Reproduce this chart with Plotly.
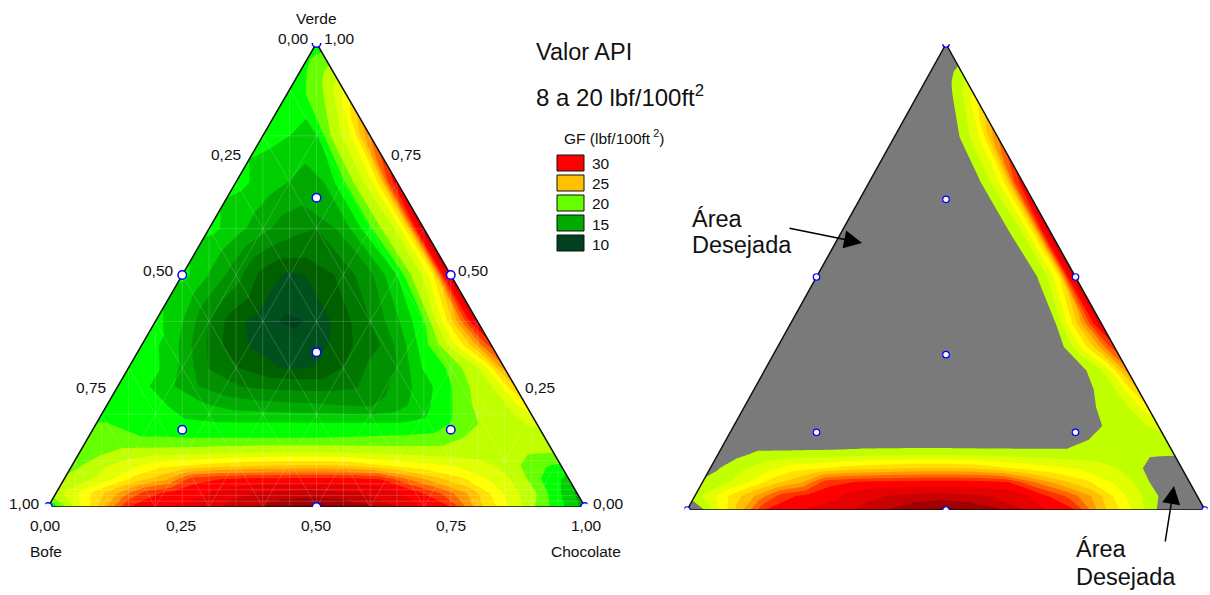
import plotly.graph_objects as go

# grid: v = Verde fraction, d = distance from the Bofe-free (right) edge along a row
grid_d = [0, .015, .03, .05, .075, .1, .15, .2, .25, .3, .35, .4, .45, .5, .55, .6, .65, .7, .75, .8, .85, .9, .95, 1]
grid_v = [0, .03, .06, .09, .12, .15, .18, .22, .26, .3, .35, .4, .5, .6, .7, .8, .9, 1]

gf_v000 = [15.5, 16.5, 17.2, 18, 19.2, 20.3, 23, 25.5, 30, 31, 32.5, 34, 35, 35.5, 35, 34, 33, 32, 31.5, 31, 30, 25.5, 21.5, 17]
gf_v003 = [16, 16.8, 17.5, 18.5, 20, 21, 23, 26, 28.5, 30.5, 32, 32.5, 32.8, 33, 32.8, 32.5, 32, 31, 30.5, 29.5, 26.5, 24, 21.5, 20]
gf_v006 = [17, 17.5, 18, 18.7, 19.9, 21, 22.5, 24, 25.5, 27.5, 30, 30.4, 30.5, 30.5, 30.4, 30.3, 30, 29.5, 26, 24.5, 22.5, 20.8, 20, 20]
gf_v009 = [18.6, 18.7, 18.9, 19.3, 20, 20.8, 21.8, 22.4, 22.8, 23.3, 24, 24.8, 25, 25, 24.8, 24.5, 24.2, 23.5, 23.2, 22, 21, 19.8, 19.5, 19.5]
gf_v012 = [20.2, 20.2, 20.2, 20.2, 20.3, 20.4, 20.5, 20.5, 20.6, 20.7, 20.8, 20.9, 21, 21, 20.9, 20.8, 20.6, 20.5, 20.4, 20.3, 19.5, 19, 19, 19]
gf_v015 = [20.5, 20.4, 20.4, 20.5, 20.5, 20.4, 20, 19.2, 19, 18.9, 18.8, 18.75, 18.7, 18.7, 18.7, 18.7, 18.7, 18.8, 18.8, 19, 18.8, 18.8, 18.8, 18.8]
gf_v018 = [21.7, 21.4, 21, 20.7, 20.5, 20.2, 19, 17.8, 17.6, 17.6, 17.6, 17.6, 17.6, 17.6, 17.6, 17.6, 17.6, 17.8, 18, 18.8, 18.8, 18.8, 18.8, 18.8]
gf_v022 = [23.5, 22.5, 21.5, 20.8, 20.4, 20, 18.3, 16.8, 15.4, 14.8, 15, 15.2, 15.3, 15.5, 15.7, 16.4, 17.2, 18, 18, 18, 18, 18, 18, 18]
gf_v026 = [25, 23.7, 22, 20.9, 20.4, 19.4, 17.6, 16, 14.6, 13.6, 13.3, 13.3, 13.4, 13.6, 14.2, 15.2, 16.7, 18, 18, 18, 18, 18, 18, 18]
gf_v030 = [27, 25, 22.8, 21.2, 20.2, 19, 17.7, 15, 14, 12.5, 11.3, 11.1, 11.5, 12.6, 13.7, 16, 17.8, 18, 18, 18, 18, 18, 18, 18]
gf_v035 = [29.5, 28, 26, 24, 21.7, 19.8, 16.7, 13.9, 12.7, 11.3, 10.8, 10.8, 11.2, 12.5, 14.6, 17.2, 18, 18, 18, 18, 18, 18, 18, 18]
gf_v040 = [32, 30, 27.5, 24.5, 21.5, 18.6, 16, 13.75, 12, 10.3, 9.6, 10.6, 11.6, 13.7, 16.3, 18, 18, 18, 18, 18, 18, 18, 18, 18]
gf_v050 = [33, 30, 24, 21.5, 19.9, 17.5, 14.7, 13, 11.5, 10.9, 12, 14.3, 16.2, 18, 18, 18, 18, 18, 18, 18, 18, 18, 18, 18]
gf_v060 = [33, 30, 24.5, 21.5, 20.3, 18.5, 15.5, 13.75, 14.2, 15.4, 16.8, 18, 18, 18, 18, 18, 18, 18, 18, 18, 18, 18, 18, 18]
gf_v070 = [31, 29, 24.5, 22, 20.5, 18.5, 15.4, 16.2, 17, 18, 18, 18, 18, 18, 18, 18, 18, 18, 18, 18, 18, 18, 18, 18]
gf_v080 = [27.5, 25.5, 23, 21.5, 19.9, 17.2, 17.5, 18, 18, 18, 18, 18, 18, 18, 18, 18, 18, 18, 18, 18, 18, 18, 18, 18]
gf_v090 = [22.5, 21.5, 20.5, 19.3, 18.6, 18, 18, 18, 18, 18, 18, 18, 18, 18, 18, 18, 18, 18, 18, 18, 18, 18, 18, 18]
gf_v100 = [17.8, 17.8, 17.8, 17.8, 17.8, 17.8, 17.8, 17.8, 17.8, 17.8, 17.8, 17.8, 17.8, 17.8, 17.8, 17.8, 17.8, 17.8, 17.8, 17.8, 17.8, 17.8, 17.8, 17.8]
gf_rows = [gf_v000, gf_v003, gf_v006, gf_v009, gf_v012, gf_v015, gf_v018, gf_v022, gf_v026,
           gf_v030, gf_v035, gf_v040, gf_v050, gf_v060, gf_v070, gf_v080, gf_v090, gf_v100]

band_start, band_end, band_size = 10, 35, 1.25
band_colors = ["#004020", "#00501e", "#006000", "#007800", "#009000", "#00aa00", "#00d000", "#00ff00",
               "#66ff00", "#bfff00", "#e0ff00", "#ffff00", "#ffe000", "#ffc000", "#ff9900", "#ff6600",
               "#ff3300", "#ff0000", "#e60000", "#c80000", "#a00000", "#800000"]
GRAY = "#7a7a7a"
right_colors = [GRAY if i < 9 else c for i, c in enumerate(band_colors)]

design_x = [0, 1, .5, .5, .25, .75, .5, .25, .75, .5]
design_v = [0, 0, 1, 0, .5, .5, 2 / 3, 1 / 6, 1 / 6, 1 / 3]

legend_labels = ["30", "25", "20", "15", "10"]
legend_colors = ["#ff0000", "#ffc000", "#66ff00", "#00aa00", "#004020"]

W, H = 1210, 595
PAD = .005


def px(x, y):
    return x / W, 1 - y / H


def scale(colors):
    n = len(colors) - 1
    return [[i / n, c] for i, c in enumerate(colors)]


carpet_x = [[max(0, 1 - v / 2 - d) for d in grid_d] for v in grid_v]
carpet_y = [[v for d in grid_d] for v in grid_v]
hidden_axis = dict(showgrid=False, showticklabels="none", showline=False, startline=False, endline=False,
                   minorgridcount=0, smoothing=0, type="linear", title=dict(text=""))

fig = go.Figure()


def panel(xa, ya, cid, colors, msize, mwidth, mesh):
    fig.add_trace(go.Carpet(a=grid_d, b=grid_v, x=carpet_x, y=carpet_y, carpet=cid, xaxis=xa, yaxis=ya,
                            aaxis=hidden_axis, baxis=hidden_axis))
    fig.add_trace(go.Contourcarpet(a=grid_d, b=grid_v, z=gf_rows, carpet=cid, xaxis=xa, yaxis=ya, showscale=False,
                                   colorscale=scale(colors), autocontour=False,
                                   contours=dict(start=band_start, end=band_end, size=band_size,
                                                 coloring="fill", showlines=False),
                                   line=dict(width=0, smoothing=0)))
    if mesh:
        mx, my = [], []
        for k in range(1, 20):
            t = k * .05
            mx += [t, t, None]
            my += [0, 2 * min(t, 1 - t), None]
        for v in [.0125, .025, .0375, .05, .075, .1, .2, .4, .6, .8]:
            mx += [v / 2, 1 - v / 2, None]
            my += [v, v, None]
        for k in range(1, 10):
            t = k * .1
            mx += [t, t / 2, None, t, (1 + t) / 2, None]
            my += [0, t, None, 0, 1 - t, None]
        fig.add_trace(go.Scatter(x=mx, y=my, xaxis=xa, yaxis=ya, mode="lines", hoverinfo="skip",
                                 line=dict(color="rgba(255,255,255,0.17)", width=1)))
    for mask_x, mask_y in [([0, .5, -1, -1, 0], [0, 1, 1, 0, 0]), ([1, .5, 2, 2, 1], [0, 1, 1, 0, 0])]:
        fig.add_trace(go.Scatter(x=mask_x, y=mask_y, xaxis=xa, yaxis=ya, mode="lines", fill="toself",
                                 fillcolor="white", line=dict(width=0, color="white"), hoverinfo="skip"))
    fig.add_trace(go.Scatter(x=[0, .5, 1, 0], y=[0, 1, 0, 0], xaxis=xa, yaxis=ya, mode="lines",
                             cliponaxis=False, hoverinfo="skip", line=dict(color="#111111", width=1.5)))
    fig.add_trace(go.Scatter(x=design_x, y=design_v, xaxis=xa, yaxis=ya, mode="markers", hoverinfo="skip",
                             marker=dict(size=msize, color="white", line=dict(color="#0000ff", width=mwidth))))


panel("x", "y", "gf_left", band_colors, 8.5, 1.5, True)
panel("x2", "y2", "gf_right", right_colors, 6.5, 1.2, False)


def axis_pair(left, right, bottom, top):
    d = right - left
    return (dict(domain=[(left - PAD * d) / W, (right + PAD * d) / W], range=[-PAD, 1 + PAD], visible=False),
            dict(domain=[1 - bottom / H, 1 - top / H], range=[0, 1], visible=False))


xa1, ya1 = axis_pair(48, 585, 507, 43)
xa2, ya2 = axis_pair(687, 1205, 510, 44)
ya2["anchor"] = "x2"
xa2["anchor"] = "y2"

notes = []


def text(s, x, y, size=15.5, anchor="center"):
    shift = {"left": -2, "right": 2, "center": 0}[anchor]
    a, b = px(x + shift, y)
    notes.append(dict(text=s, x=a, y=b, xref="paper", yref="paper", showarrow=False, xanchor=anchor,
                      yanchor="middle", font=dict(size=size, color="#111111")))


text("Verde", 316, 18)
text("0,00", 309, 39, anchor="right")
text("1,00", 324, 39, anchor="left")
text("0,25", 226, 155)
text("0,75", 406, 155)
text("0,50", 158, 271)
text("0,50", 473, 271)
text("0,75", 91, 387)
text("0,25", 540, 387)
text("1,00", 24, 503)
text("0,00", 608, 503)
for lab, lx in [("0,00", 46), ("0,25", 181), ("0,50", 316), ("0,75", 451), ("1,00", 586)]:
    text(lab, lx, 525)
text("Bofe", 46, 551)
text("Chocolate", 586, 551)
text("Valor API", 536, 52, 23.5, "left")
text("8 a 20 lbf/100ft<sup>2</sup>", 536, 96, 24, "left")
text("GF (lbf/100ft<sup> 2</sup>)", 614, 137)
legend_ys = [163, 183, 203, 223, 243]
shapes = []
for lab, col, ly in zip(legend_labels, legend_colors, legend_ys):
    text(lab, 592, ly + (1 if lab in ("15", "10") else 0), anchor="left")
    x0, y0 = px(557, ly - 8)
    x1, y1 = px(584, ly + 8)
    shapes.append(dict(type="rect", xref="paper", yref="paper", x0=x0, x1=x1, y0=y0, y1=y1,
                       fillcolor=col, line=dict(color="#111111", width=1)))
text("Área", 692, 219, 23.5, "left")
text("Desejada", 692, 245, 23.5, "left")
text("Área", 1076, 549, 23.5, "left")
text("Desejada", 1076, 577, 23.5, "left")

for (sx, sy, tx, ty) in [(788, 228, 862, 243), (1165, 543, 1174, 486)]:
    a, b = px(tx, ty)
    notes.append(dict(x=a, y=b, xref="paper", yref="paper", axref="pixel", ayref="pixel", ax=sx - tx, ay=sy - ty,
                      text="", showarrow=True, arrowhead=2, arrowsize=2.4, arrowwidth=1.5, arrowcolor="#000000"))

fig.update_layout(width=W, height=H, margin=dict(l=0, r=0, t=0, b=0), showlegend=False,
                  paper_bgcolor="white", plot_bgcolor="white",
                  font=dict(family="Liberation Sans, Arial, sans-serif"),
                  xaxis=xa1, yaxis=ya1, xaxis2=xa2, yaxis2=ya2, annotations=notes, shapes=shapes)

fig.write_html("out.html", config=dict(displayModeBar=False),
               post_script="document.body.style.margin='0';")
